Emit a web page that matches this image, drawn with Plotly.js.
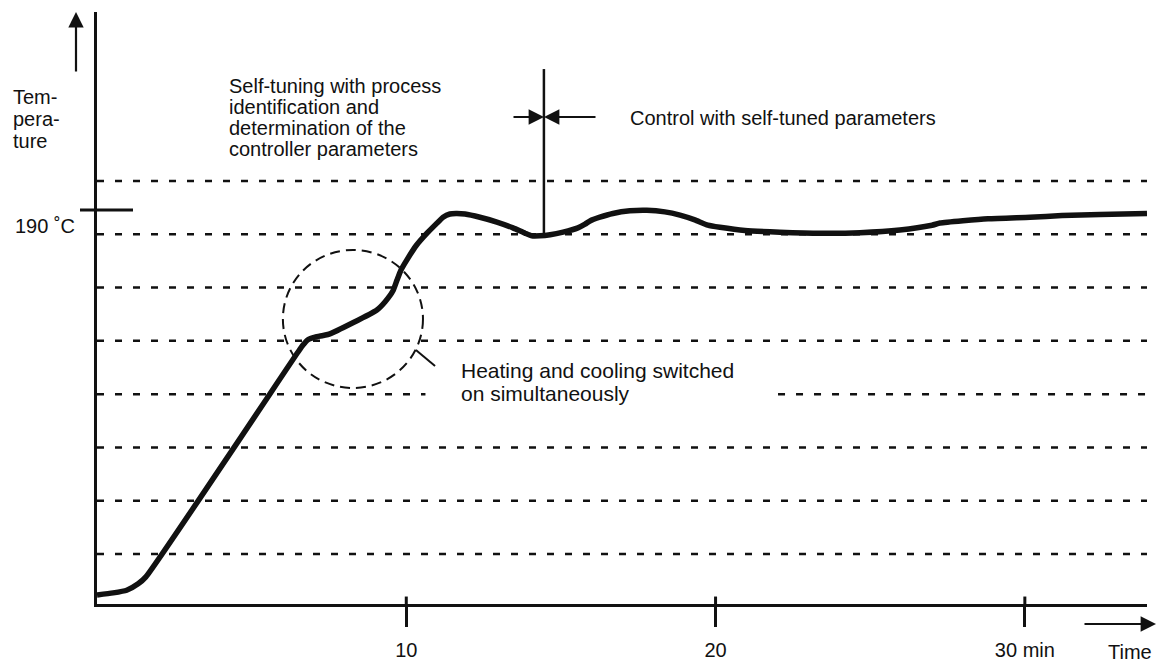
<!DOCTYPE html>
<html>
<head>
<meta charset="utf-8">
<script src="https://cdn.plot.ly/plotly-3.0.1.min.js"></script>
<style>html,body{margin:0;padding:0;background:#fff;}#chart{width:1162px;height:668px;}</style>
</head>
<body>
<div id="chart"></div>
<script>
// ---- data (time in min, temperature in grid-step units; bottom dashed line = 1) ----
const timeMin = [0, 0.52, 0.96, 1.33, 1.58, 6.50, 6.66, 6.82, 7.05, 7.31, 7.53, 9.05, 9.31, 9.57, 9.70, 9.83, 10.02, 10.31, 10.67, 10.96,
  11.19, 11.41, 11.61, 11.90, 12.38, 12.93, 13.45, 13.84, 14.06, 14.32, 14.65, 15.07, 15.55, 15.78, 15.94, 16.26, 16.68, 17.23, 17.78, 18.36,
  18.85, 19.33, 19.75, 20.14, 20.95, 22.08, 23.41, 24.67, 25.96, 27.00, 27.26, 28.81, 30.17, 31.20, 32.43, 33.95];
const temperature = [0.23, 0.27, 0.32, 0.44, 0.57, 4.79, 4.92, 5.02, 5.07, 5.10, 5.13, 5.58, 5.73, 5.94, 6.14, 6.33, 6.52, 6.78, 7.02, 7.19,
  7.32, 7.38, 7.39, 7.38, 7.32, 7.23, 7.12, 7.02, 6.97, 6.97, 6.99, 7.04, 7.12, 7.19, 7.25, 7.32, 7.39, 7.44, 7.45, 7.42,
  7.36, 7.27, 7.17, 7.13, 7.07, 7.04, 7.02, 7.03, 7.08, 7.17, 7.21, 7.29, 7.32, 7.35, 7.37, 7.39];
const gridLevels = [1, 2, 3, 4, 5, 6, 7, 8];
const timeTicks = [10, 20, 30];
const timeTickLabels = ['10', '20', '30 min'];
const setpointLevel = 7.455;       // 190 °C
const setpointLabel = '190 ˚C';
const switchTime = 14.45;          // end of self-tuning phase
const yLabelLines = ['Tem-', 'pera-', 'ture'];
const tuningLines = ['Self-tuning with process', 'identification and', 'determination of the', 'controller parameters'];
const controlText = 'Control with self-tuned parameters';
const heatCoolLines = ['Heating and cooling switched', 'on simultaneously'];
const xAxisText = 'Time';

// ---- geometry helpers (pixel -> paper) ----
const W = 1162, H = 668, ML = 97, MR = 15, MT = 12, MB = 64;
const PW = W - ML - MR, PH = H - MT - MB;
const px = x => (x - ML) / PW;
const py = y => (H - MB - y) / PH;
const FONT = '"Liberation Sans", Arial, Helvetica, sans-serif';
const INK = '#111';
const XMAX = 33.95, YMIN = 0.0617, YMAX = 11.171;

const shapes = [];
// dashed horizontal reference lines
gridLevels.forEach(g => {
  const seg = (g === 4) ? [[0, 10.62], [22.02, XMAX]] : [[0, XMAX]];
  seg.forEach(s => shapes.push({type: 'line', xref: 'x', yref: 'y', x0: s[0], x1: s[1], y0: g, y1: g,
    line: {color: INK, width: 2.5, dash: '7px,11px'}, layer: 'below'}));
});
// upper part of x ticks (crossing the axis)
timeTicks.forEach(t => shapes.push({type: 'line', xref: 'x', yref: 'y', x0: t, x1: t, y0: YMIN, y1: YMIN + 0.14,
  line: {color: INK, width: 3}}));
// 190 °C tick through the y axis
shapes.push({type: 'line', xref: 'paper', yref: 'paper', x0: px(80), x1: px(133), y0: py(210), y1: py(210), line: {color: INK, width: 3}});
// dashed circle
shapes.push({type: 'circle', xref: 'x', yref: 'y', x0: 6.01, x1: 10.54, y0: 4.115, y1: 6.705,
  line: {color: INK, width: 2, dash: '10px,6px'}});
// leader line from circle to text
shapes.push({type: 'line', xref: 'x', yref: 'y', x0: 10.31, x1: 10.93, y0: 4.828, y1: 4.528, line: {color: INK, width: 2}});
// vertical separator
shapes.push({type: 'line', xref: 'x', yref: 'y', x0: switchTime, x1: switchTime, y0: 7.0, y1: 10.10, line: {color: INK, width: 2.5}});

const annotations = [];
const txt = (text, x, y, size) => annotations.push({text: text, xref: 'paper', yref: 'paper', x: px(x), y: py(y),
  xanchor: 'left', yanchor: 'middle', showarrow: false, font: {family: FONT, size: size || 20, color: INK}});
yLabelLines.forEach((t, i) => txt(t, 11, 97 + i * 22));
txt(setpointLabel, 13, 226);
tuningLines.forEach((t, i) => txt(t, 227, 86 + i * 21));
txt(controlText, 628, 118);
heatCoolLines.forEach((t, i) => txt(t, 459, 371 + i * 22, 21));
txt(xAxisText, 1106, 652);

const arrow = (x, y, ax, ay) => annotations.push({text: '', xref: 'paper', yref: 'paper', x: px(x), y: py(y), ax: ax, ay: ay,
  showarrow: true, arrowhead: 2, arrowsize: 1.4, arrowwidth: 2.2, arrowcolor: INK, standoff: 0});
arrow(76, 12, 0, 61);       // temperature axis arrow
arrow(1156, 624, -73, 0);   // time axis arrow
arrow(544, 117, -32, 0);    // arrow pointing right to separator
arrow(544, 117, 53, 0);     // arrow pointing left to separator

const trace = {x: timeMin, y: temperature, type: 'scatter', mode: 'lines',
  line: {color: INK, width: 5.5, shape: 'spline', smoothing: 0.5}, hoverinfo: 'skip'};

const layout = {
  width: W, height: H, margin: {l: ML, r: MR, t: MT, b: MB, pad: 0},
  paper_bgcolor: '#fff', plot_bgcolor: '#fff', showlegend: false,
  font: {family: FONT, size: 20, color: INK},
  xaxis: {range: [0, XMAX], showline: true, linewidth: 3, linecolor: INK, showgrid: false, zeroline: false,
    ticks: 'outside', ticklen: 20, tickwidth: 3, tickcolor: INK, tickvals: timeTicks, ticktext: timeTickLabels,
    tickfont: {family: FONT, size: 20, color: INK}, ticklabelstandoff: 6, fixedrange: true},
  yaxis: {range: [YMIN, YMAX], showline: true, linewidth: 3, linecolor: INK, showgrid: false, zeroline: false,
    showticklabels: false, ticks: '', fixedrange: true},
  shapes: shapes, annotations: annotations
};
Plotly.newPlot('chart', [trace], layout, {staticPlot: true, displayModeBar: false});
</script>
</body>
</html>
